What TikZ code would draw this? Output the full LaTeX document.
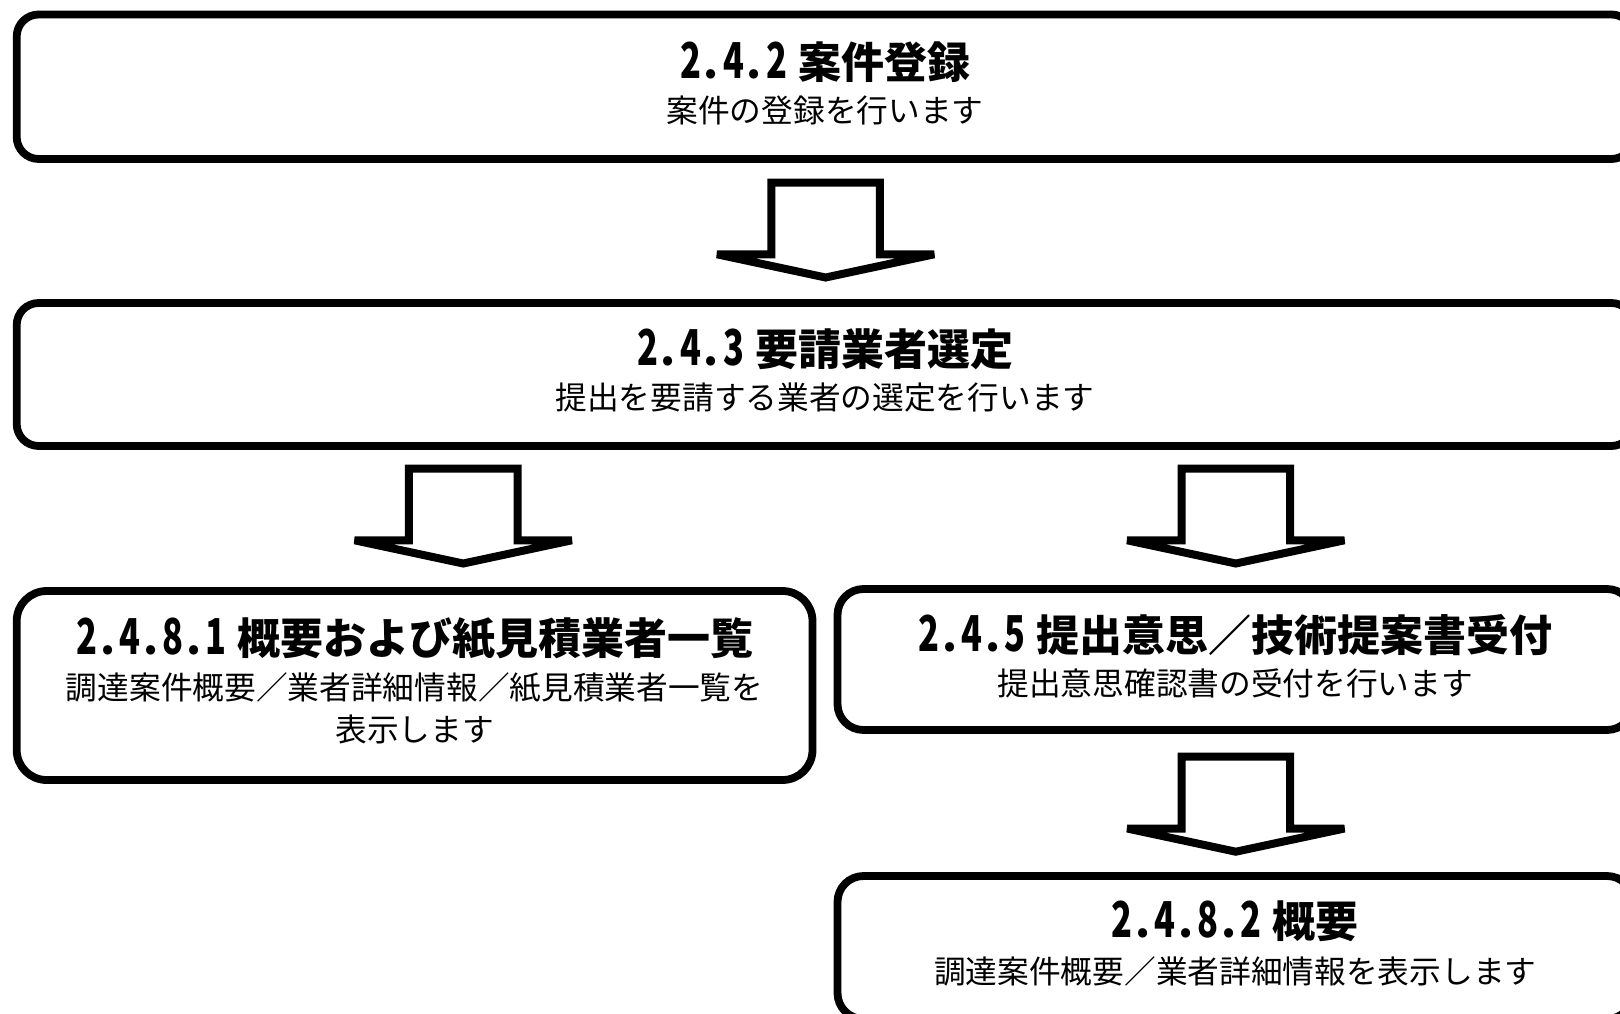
\documentclass[tikz,border=0pt]{standalone}
\usepackage{fontspec}
\usepackage{graphicx}
\newfontfamily\jp{Noto Sans CJK JP}
\usetikzlibrary{calc}
\newcommand\hwd[1]{\makebox[0.5em][c]{\scalebox{0.8}[1.15]{#1}}}
\newcommand\hwp{\makebox[0.5em][l]{\hspace{0.06em}.}}
\newcommand\tsp{\hspace{0.25em}}
\tikzset{
  boxnode/.style={draw=black, line width=7.8pt, fill=white, rounded corners=22pt, inner sep=0pt},
  ttl/.style={font=\jp\bfseries\fontsize{43}{48}\selectfont, inner sep=0pt, anchor=center},
  subt/.style={font=\jp\fontsize{31.7}{42.5}\selectfont, inner sep=0pt, align=center, anchor=center},
  arrowline/.style={draw=black, line width=8pt, fill=white, line join=miter, miter limit=3},
  downarrow/.pic={\path[arrowline] (-54.3,71.8) -- (-54.3,0) -- (54.3,0) -- (54.3,71.8) -- (108.6,71.8) -- (0,95) -- (-108.6,71.8) -- cycle;}
}
\begin{document}
\begin{tikzpicture}[x=1pt,y=-1pt]
\useasboundingbox (0,0) rectangle (1620,1014);
\fill[white] (0,0) rectangle (1620,1014);
\clip (0,0) rectangle (1620,1014);
% boxes
\node[boxnode, minimum width=1616.6pt, minimum height=144.5pt] (b1) at (825,86.75) {};
\node[boxnode, minimum width=1616.6pt, minimum height=143pt] (b2) at (825,374.5) {};
\node[boxnode, rounded corners=30pt, minimum width=795.8pt, minimum height=189pt] (b3) at (414.6,685.5) {};
\node[boxnode, rounded corners=26pt, minimum width=795.5pt, minimum height=141pt] (b4) at (1235.25,659.5) {};
\node[boxnode, rounded corners=26pt, minimum width=795.5pt, minimum height=143pt] (b5) at (1235.25,947.5) {};
% texts
\node[ttl] (t1) at (825,62) {\hwd{2}\hwp\hwd{4}\hwp\hwd{2}\tsp 案件登録};
\node[subt] (s1) at (825,110.5) {案件の登録を行います};
\node[ttl] (t2) at (825,349) {\hwd{2}\hwp\hwd{4}\hwp\hwd{3}\tsp 要請業者選定};
\node[subt] (s2) at (825,398) {提出を要請する業者の選定を行います};
\node[ttl] (t3) at (414.6,638.5) {\hwd{2}\hwp\hwd{4}\hwp\hwd{8}\hwp\hwd{1}\tsp 概要および紙見積業者一覧};
\node[subt] (s3) at (414.6,708.25) {調達案件概要／業者詳細情報／紙見積業者一覧を\\表示します};
\node[ttl] (t4) at (1235.25,635.5) {\hwd{2}\hwp\hwd{4}\hwp\hwd{5}\tsp 提出意思／技術提案書受付};
\node[subt] (s4) at (1235.25,683) {提出意思確認書の受付を行います};
\node[ttl] (t5) at (1235.25,921.6) {\hwd{2}\hwp\hwd{4}\hwp\hwd{8}\hwp\hwd{2}\tsp 概要};
\node[subt] (s5) at (1235.25,971) {調達案件概要／業者詳細情報を表示します};
% block arrows
\coordinate (a1) at (825.6,182.5);
\coordinate (a2) at (463.2,468.5);
\coordinate (a3) at (1235.8,468.5);
\coordinate (a4) at (1235.8,756.7);
\pic at (a1) {downarrow};
\pic at (a2) {downarrow};
\pic at (a3) {downarrow};
\pic at (a4) {downarrow};
\end{tikzpicture}
\end{document}
